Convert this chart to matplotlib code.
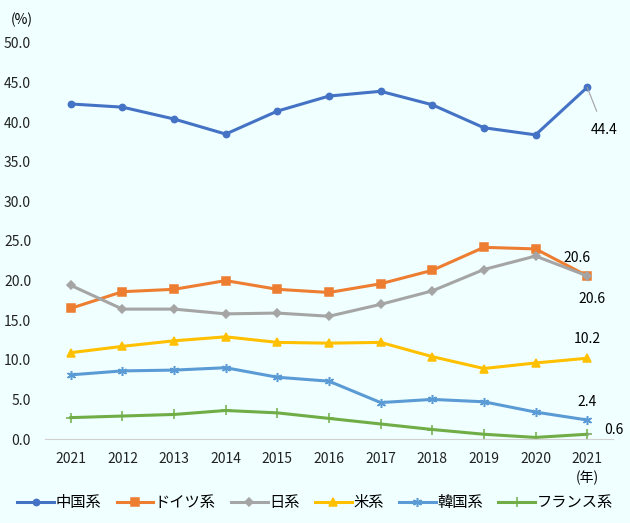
import numpy as np
import matplotlib
matplotlib.use('Agg')
from matplotlib import pyplot as plt

plt.rcParams['font.family'] = ['Noto Sans CJK JP', 'DejaVu Sans']

years = ['2021', '2012', '2013', '2014', '2015', '2016', '2017', '2018', '2019', '2020', '2021']

china = [42.3, 41.9, 40.4, 38.5, 41.4, 43.3, 43.9, 42.2, 39.3, 38.4, 44.4]
germany = [16.5, 18.6, 18.9, 20.0, 18.9, 18.5, 19.6, 21.3, 24.2, 24.0, 20.6]
japan = [19.4, 16.4, 16.4, 15.8, 15.9, 15.5, 17.0, 18.7, 21.4, 23.1, 20.6]
usa = [10.9, 11.7, 12.4, 12.9, 12.2, 12.1, 12.2, 10.4, 8.9, 9.6, 10.2]
korea = [8.1, 8.6, 8.7, 9.0, 7.8, 7.3, 4.6, 5.0, 4.7, 3.4, 2.4]
france = [2.7, 2.9, 3.1, 3.6, 3.3, 2.6, 1.9, 1.2, 0.6, 0.2, 0.6]

names = ['中国系', 'ドイツ系', '日系', '米系', '韓国系', 'フランス系']
colors = ['#4472C4', '#ED7D31', '#A5A5A5', '#FFC000', '#5B9BD5', '#70AD47']
markers = ['o', 's', 'D', '^', (6, 2, 0), '+']
msizes = [4.5, 5.5, 4, 5.5, 6.5, 6.5]

bg = '#F0FFFF'
fig = plt.figure(figsize=(6.3, 5.23), dpi=100, facecolor=bg)
ax = fig.add_axes([0.0714, 0.1606, 0.9016, 0.7572], facecolor=bg)

x = np.arange(len(years))
series = [china, germany, japan, usa, korea, france]
for vals, name, c, m, ms in zip(series, names, colors, markers, msizes):
    ax.plot(x, vals, color=c, lw=2.2, marker=m, ms=ms, mec=c, mfc=c,
            mew=1.1, label=name)

ax.set_xlim(-0.5, len(years) - 0.5)
ax.set_ylim(0, 50)
ax.set_yticks(np.arange(0, 50.1, 5))
ax.set_yticklabels([f'{v:.1f}' for v in np.arange(0, 50.1, 5)])
ax.set_xticks(x)
ax.set_xticklabels(years)
ax.tick_params(length=0, labelsize=10, colors='#222222')
ax.tick_params(axis='x', pad=9)
ax.tick_params(axis='y', pad=10)
for s in ['top', 'right', 'left']:
    ax.spines[s].set_visible(False)
ax.spines['bottom'].set_color('#D0D0D0')

# data labels at the last point
last = len(years) - 1
lc = '#A0A0A0'
fs = 10
ax.annotate(f'{china[-1]:.1f}', xy=(last, china[-1]), xytext=(last + 0.33, 39.0),
            fontsize=fs, ha='center', va='center',
            arrowprops=dict(arrowstyle='-', color=lc, lw=0.8, shrinkA=7, shrinkB=0))
ax.text(last - 0.19, 22.9, f'{germany[-1]:.1f}', fontsize=fs, ha='center', va='center')
ax.annotate(f'{japan[-1]:.1f}', xy=(last, japan[-1]), xytext=(last + 0.1, 17.7),
            fontsize=fs, ha='center', va='center',
            arrowprops=dict(arrowstyle='-', color=lc, lw=0.8, shrinkA=6, shrinkB=0))
ax.text(last, 12.6, f'{usa[-1]:.1f}', fontsize=fs, ha='center', va='center')
ax.text(last, 4.7, f'{korea[-1]:.1f}', fontsize=fs, ha='center', va='center')
ax.annotate(f'{france[-1]:.1f}', xy=(last, france[-1]), xytext=(last + 0.52, 1.1),
            fontsize=fs, ha='center', va='center',
            arrowprops=dict(arrowstyle='-', color=lc, lw=0.8, shrinkA=8, shrinkB=0))

fig.text(0.034, 0.962, '(%)', fontsize=fs, ha='center', va='center')
fig.text(587 / 630, 1 - 478 / 523, '(年)', fontsize=fs, ha='center', va='center')

fig.legend(loc='center', bbox_to_anchor=(0.5, 1 - 503 / 523), ncol=6, frameon=False,
           fontsize=11, handlelength=2.4, columnspacing=1.0, handletextpad=0.1)

fig.savefig('out.png', dpi=100, facecolor=bg)
